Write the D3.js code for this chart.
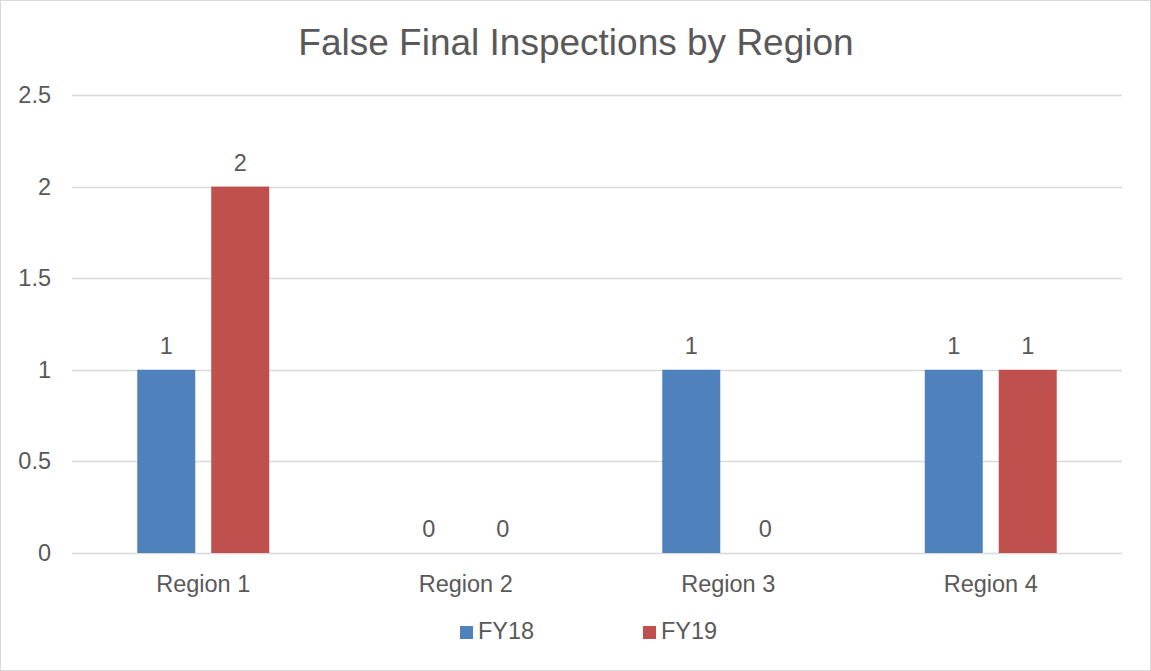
<!DOCTYPE html>
<html>
<head>
<meta charset="utf-8">
<script src="https://cdn.jsdelivr.net/npm/d3@7"></script>
<style>
  body { margin: 0; background: #fff; }
  text { font-family: "Liberation Sans", Arial, sans-serif; fill: #595959; }
</style>
</head>
<body>
<svg id="chart" width="1151" height="671"></svg>
<script>
// chart data
const regions = ["Region 1", "Region 2", "Region 3", "Region 4"];
const seriesNames = ["FY18", "FY19"];
const fy18 = [1, 0, 1, 1];
const fy19 = [2, 0, 0, 1];
const yTicks = [0, 0.5, 1, 1.5, 2, 2.5];
const colors = ["#4F81BD", "#C0504D"];

const width = 1151, height = 671;
const margin = {top: 95, right: 29, bottom: 118, left: 72};
const labelSize = "23.5px";

const svg = d3.select("#chart");

// outer chart border
svg.append("rect")
    .attr("x", 0.5).attr("y", 0.5)
    .attr("width", width - 1).attr("height", height - 1)
    .attr("fill", "#fff").attr("stroke", "#d9d9d9");

// title
svg.append("text")
    .attr("x", 576).attr("y", 55)
    .attr("text-anchor", "middle")
    .style("font-size", "37px")
    .text("False Final Inspections by Region");

const x0 = d3.scaleBand()
    .domain(regions)
    .range([margin.left, width - margin.right])
    .padding(0);

const x1 = d3.scaleBand()
    .domain(seriesNames)
    .range([0, x0.bandwidth()])
    .paddingInner(0.216)
    .paddingOuter(0.882);

const y = d3.scaleLinear()
    .domain([0, 2.5])
    .range([height - margin.bottom, margin.top]);

// gridlines
svg.append("g")
    .selectAll("line")
    .data(yTicks)
    .join("line")
    .attr("x1", margin.left).attr("x2", width - margin.right)
    .attr("y1", d => Math.round(y(d)) + 0.5).attr("y2", d => Math.round(y(d)) + 0.5)
    .attr("stroke", "#d9d9d9").attr("stroke-width", 1.5);

// y tick labels
svg.append("g")
    .selectAll("text")
    .data(yTicks)
    .join("text")
    .attr("x", 51)
    .attr("y", d => y(d) + 8)
    .attr("text-anchor", "end")
    .style("font-size", labelSize)
    .text(d => d);

// build rows per series
const rows = [fy18, fy19].map((vals, i) => vals.map((v, j) => ({
    series: seriesNames[i], region: regions[j], value: v, color: colors[i]
})));

const groups = svg.append("g")
    .selectAll("g")
    .data(rows)
    .join("g");

groups.selectAll("rect")
    .data(d => d)
    .join("rect")
    .attr("x", d => x0(d.region) + x1(d.series))
    .attr("width", x1.bandwidth())
    .attr("y", d => y(d.value))
    .attr("height", d => y(0) - y(d.value))
    .attr("fill", d => d.color);

// data labels
groups.selectAll("text")
    .data(d => d)
    .join("text")
    .attr("x", d => x0(d.region) + x1(d.series) + x1.bandwidth() / 2)
    .attr("y", d => y(d.value) - 16)
    .attr("text-anchor", "middle")
    .style("font-size", labelSize)
    .text(d => d.value);

// category labels
svg.append("g")
    .selectAll("text")
    .data(regions)
    .join("text")
    .attr("x", d => x0(d) + x0.bandwidth() / 2)
    .attr("y", 592)
    .attr("text-anchor", "middle")
    .style("font-size", labelSize)
    .text(d => d);

// legend
const legendX = [460, 643];
const legend = svg.append("g")
    .selectAll("g")
    .data(seriesNames)
    .join("g")
    .attr("transform", (d, i) => `translate(${legendX[i]},626)`);

legend.append("rect")
    .attr("width", 13).attr("height", 13)
    .attr("fill", (d, i) => colors[i]);

legend.append("text")
    .attr("x", 18).attr("y", 13)
    .style("font-size", labelSize)
    .text(d => d);
</script>
</body>
</html>
